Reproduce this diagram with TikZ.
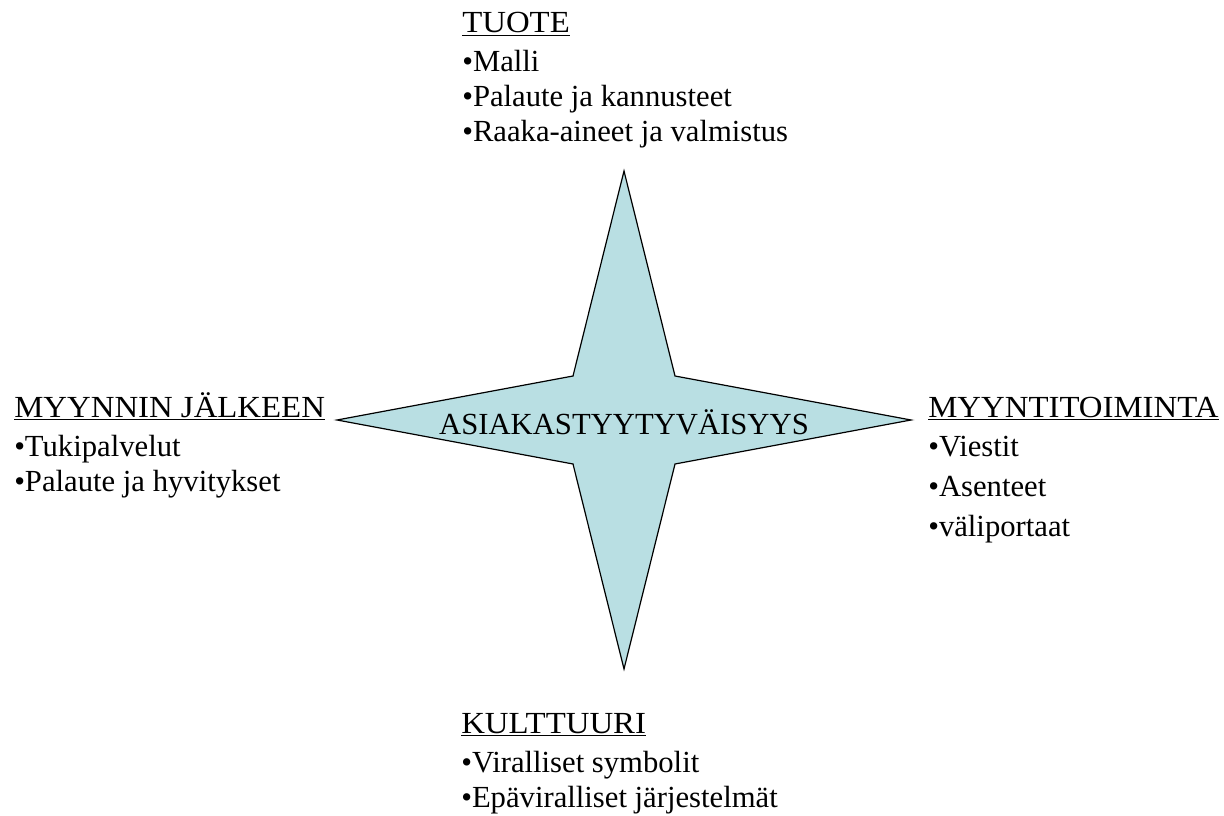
\documentclass[tikz,border=0pt]{standalone}
\usepackage{fontspec}
\setmainfont{Liberation Serif}
\definecolor{starfill}{RGB}{185,223,227}
\newcommand{\headline}[1]{{\addfontfeatures{FakeStretch=1.07}\underline{#1}}\\[3pt]}
\begin{document}
\begin{tikzpicture}[x=0.75pt,y=-0.75pt,
    block/.style={anchor=base west,inner sep=0pt,font=\fontsize{23}{26.25}\selectfont}]
  \useasboundingbox (0,0) rectangle (1224,816);
  % the star
  \filldraw[fill=starfill,draw=black,line width=0.9pt,line join=miter]
    (624,171) -- (675,376) -- (911,420) -- (675,464) -- (624,669)
    -- (573,464) -- (337,420) -- (573,376) -- cycle;
  \node[anchor=base,inner sep=0pt,font=\fontsize{23}{26.25}\selectfont] (asiakas) at (624,435) {ASIAKASTYYTYVÄISYYS};
  % top
  \node[block] (tuote) at (462,33) {\begin{tabular}[t]{@{}l@{}}\headline{TUOTE}
    •Malli\\•Palaute ja kannusteet\\•Raaka-aineet ja valmistus\end{tabular}};
  % left
  \node[block] (jalkeen) at (14,417) {\begin{tabular}[t]{@{}l@{}}\headline{MYYNNIN JÄLKEEN}
    •Tukipalvelut\\•Palaute ja hyvitykset\end{tabular}};
  % right
  \node[block] (myynti) at (928,417) {\begin{tabular}[t]{@{}l@{}}\headline{MYYNTITOIMINTA}
    •Viestit\\[4pt]•Asenteet\\[4pt]•väliportaat\end{tabular}};
  % bottom
  \node[block] (kulttuuri) at (461,733) {\begin{tabular}[t]{@{}l@{}}\headline{KULTTUURI}
    •Viralliset symbolit\\•Epäviralliset järjestelmät\end{tabular}};
\end{tikzpicture}
\end{document}
